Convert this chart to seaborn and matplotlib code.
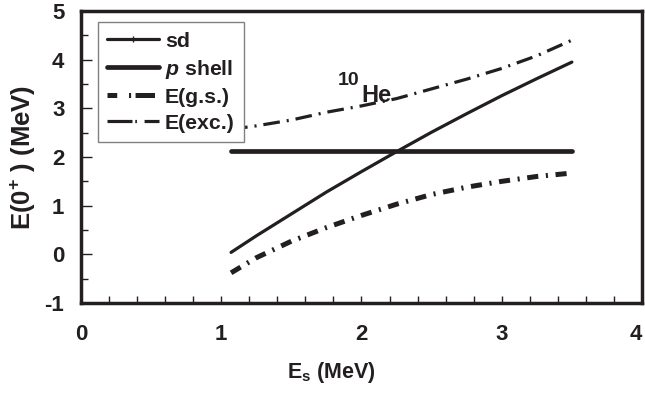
import matplotlib
matplotlib.use("Agg")
import matplotlib.pyplot as plt
from matplotlib.lines import Line2D
from matplotlib.ticker import MultipleLocator, FixedLocator, FixedFormatter
import seaborn as sns
import pandas as pd

# ---- data ----
es = [1.07, 1.25, 1.5, 1.75, 2.0, 2.25, 2.5, 2.75, 3.0, 3.25, 3.5]
sd = [0.04, 0.38, 0.83, 1.28, 1.70, 2.11, 2.51, 2.89, 3.26, 3.61, 3.95]
gs = [-0.38, -0.07, 0.27, 0.55, 0.80, 1.03, 1.23, 1.38, 1.50, 1.60, 1.67]
exc = [2.57, 2.64, 2.76, 2.92, 3.05, 3.20, 3.40, 3.60, 3.82, 4.08, 4.40]
p_x = [1.07, 3.5]
p_shell = [2.13, 2.13]
labels = ["sd", r"$\mathit{p}$ shell", "E(g.s.)", "E(exc.)"]
x_ticks = [0, 1, 2, 3, 4]
x_ticklabels = ["0", "1", "2", "3", "4"]

ink = "#231f20"

sns.set_style("white")
plt.rcParams["font.family"] = ["Liberation Sans", "DejaVu Sans"]
plt.rcParams["font.weight"] = "bold"
plt.rcParams["mathtext.fontset"] = "custom"
plt.rcParams["mathtext.rm"] = "Liberation Sans:bold"
plt.rcParams["mathtext.bf"] = "Liberation Sans:bold"
plt.rcParams["mathtext.it"] = "Liberation Sans:bold:italic"
plt.rcParams["lines.scale_dashes"] = False
plt.rcParams["axes.unicode_minus"] = False

fig = plt.figure(figsize=(6.45, 3.94), dpi=100)
ax = fig.add_axes([81 / 645, 1 - 303 / 394, 561 / 645, 292 / 394])

df = pd.DataFrame({"Es": es, "sd": sd, "gs": gs, "exc": exc})
dp = pd.DataFrame({"Es": p_x, "p": p_shell})

sns.lineplot(data=df, x="Es", y="sd", ax=ax, color=ink, linewidth=2.3,
             solid_capstyle="round", sort=True)
sns.lineplot(data=dp, x="Es", y="p", ax=ax, color=ink, linewidth=3.4,
             solid_capstyle="round")
sns.lineplot(data=df, x="Es", y="gs", ax=ax, color=ink, linewidth=3.6,
             linestyle=(0, (8, 5.5, 1.5, 5.5)), dash_capstyle="butt")
sns.lineplot(data=df, x="Es", y="exc", ax=ax, color=ink, linewidth=2.3,
             linestyle=(0, (12, 5.0, 1.5, 5.0)), dash_capstyle="butt")

ax.set_xlim(0, 4)
ax.set_ylim(-1, 5)
# last x tick label ("4") is drawn separately so it stays inside the picture
ax.xaxis.set_major_locator(FixedLocator(x_ticks))
ax.xaxis.set_major_formatter(FixedFormatter(x_ticklabels[:-1] + [""]))
ax.xaxis.set_minor_locator(MultipleLocator(0.2))
ax.yaxis.set_major_locator(MultipleLocator(1))
ax.yaxis.set_minor_locator(MultipleLocator(0.5))
ax.tick_params(axis="x", which="both", direction="in", length=5, width=1,
               color=ink, pad=15, labelsize=16, labelcolor=ink)
ax.tick_params(axis="y", which="major", direction="in", length=8, width=1,
               color=ink, pad=12, labelsize=16, labelcolor=ink)
ax.tick_params(axis="y", which="minor", direction="in", length=5, width=1,
               color=ink)
ax.tick_params(left=True, bottom=True, which="both")
ax.annotate(x_ticklabels[-1], xy=(x_ticks[-1], 0),
            xycoords=("data", "axes fraction"), xytext=(-4.5, -15),
            textcoords="offset points", ha="center", va="top",
            fontsize=16, fontweight="bold", color=ink)

for s in ax.spines.values():
    s.set_linewidth(2.5)
    s.set_color(ink)

ax.set_xlabel(r"E$_\mathregular{s}$ (MeV)", fontsize=15.5, fontweight="bold",
              color=ink)
ax.set_ylabel(r"E(0$^\mathregular{+}$ ) (MeV)", fontsize=18.5,
              fontweight="bold", color=ink)
ax.xaxis.set_label_coords(0.446, -0.195)
ax.yaxis.set_label_coords(-0.077, 0.5)

ax.text(1.83, 3.48, "10", fontsize=14, fontweight="bold", color=ink,
        ha="left", va="baseline")
ax.text(2.0, 3.13, "He", fontsize=17, fontweight="bold", color=ink,
        ha="left", va="baseline")

handles = [
    Line2D([], [], color=ink, linewidth=2.3, marker="+", markersize=4,
           markeredgewidth=1),
    Line2D([], [], color=ink, linewidth=3.4, solid_capstyle="round"),
    Line2D([], [], color=ink, linewidth=3.6,
           linestyle=(0, (7, 8.5, 1.5, 3.2, 14)), dash_capstyle="butt"),
    Line2D([], [], color=ink, linewidth=2.3,
           linestyle=(0, (18, 2.0, 1.2, 5.5, 14)), dash_capstyle="butt"),
]
leg = ax.legend(handles, labels, loc="upper left",
                bbox_to_anchor=(0.03, 0.962), borderaxespad=0,
                fontsize=15.3, handlelength=2.45, handletextpad=0.25,
                labelspacing=0.33, borderpad=0.45, fancybox=False,
                framealpha=1, edgecolor="#808080", frameon=True)
leg.get_frame().set_linewidth(1.0)
for t in leg.get_texts():
    t.set_fontweight("bold")
    t.set_color(ink)

fig.savefig("out.png", dpi=100)
